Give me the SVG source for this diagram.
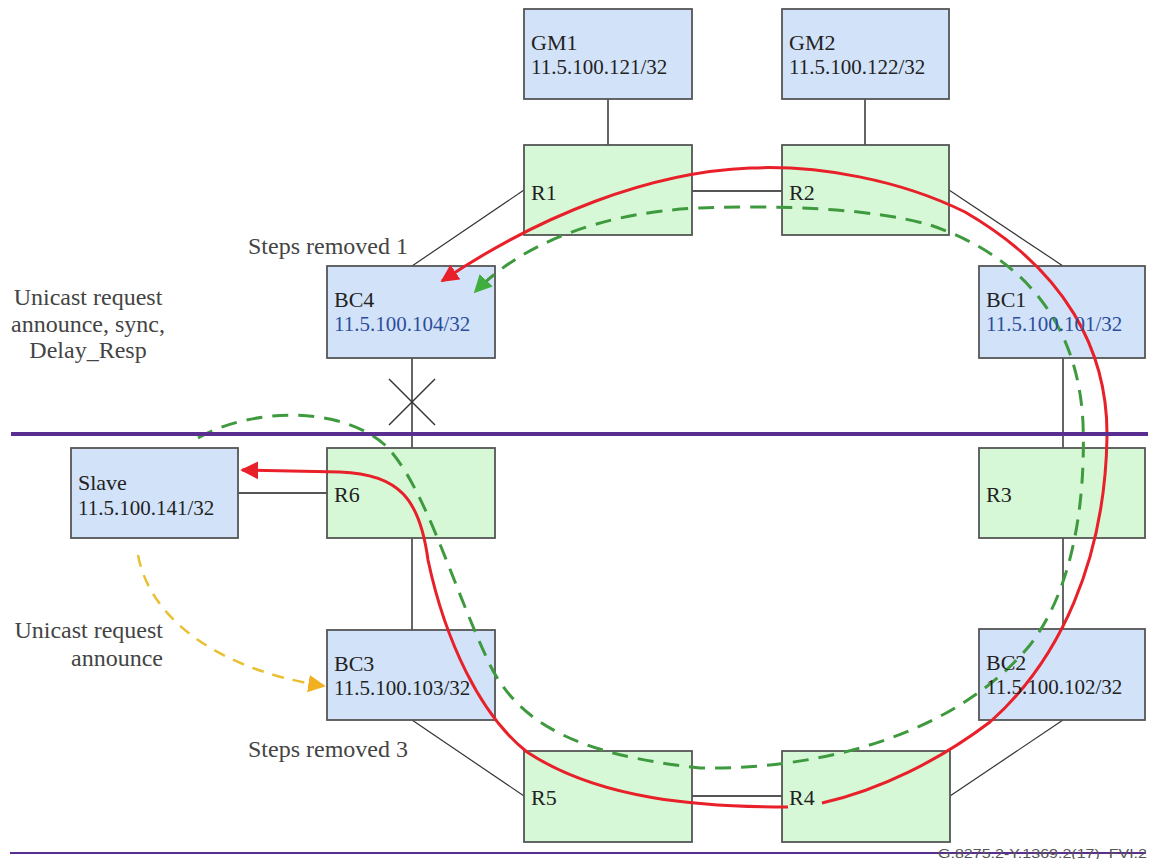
<svg xmlns="http://www.w3.org/2000/svg" width="1151" height="859" viewBox="0 0 1151 859">
<defs>
<style>
.blue{fill:#d2e3f9;stroke:#555;stroke-width:1.8}
.green{fill:#d6f8d6;stroke:#555;stroke-width:1.8}
.link{stroke:#555;stroke-width:1.8;fill:none}
.diag{stroke:#333;stroke-width:1.2;fill:none}
.t{font-family:"Liberation Serif","Times New Roman",serif;font-size:22px;fill:#222}
.ip{font-family:"Liberation Serif","Times New Roman",serif;font-size:21px;fill:#222}
.ipb{font-family:"Liberation Serif","Times New Roman",serif;font-size:21px;fill:#2d4d9c}
.lbl{font-family:"Liberation Serif","Times New Roman",serif;font-size:24px;fill:#444}
.red{stroke:#e8202a;stroke-width:3;fill:none}
.gd{stroke:#3f9a3f;stroke-width:3;fill:none;stroke-dasharray:16 10}
.yd{stroke:#e8c030;stroke-width:2.5;fill:none;stroke-dasharray:12 9}
</style>
<marker id="ar" viewBox="0 0 10 10" refX="9" refY="5" markerWidth="6" markerHeight="6" markerUnits="strokeWidth" orient="auto"><path d="M0,0 L10,5 L0,10 z" fill="#e8202a"/></marker>
<marker id="ag" viewBox="0 0 10 10" refX="9" refY="5" markerWidth="6" markerHeight="6" markerUnits="strokeWidth" orient="auto"><path d="M0,0 L10,5 L0,10 z" fill="#3fae3f"/></marker>
<marker id="ay" viewBox="0 0 10 10" refX="9" refY="5" markerWidth="7" markerHeight="7" markerUnits="strokeWidth" orient="auto"><path d="M0,0 L10,5 L0,10 z" fill="#f0b020"/></marker>
</defs>
<rect width="1151" height="859" fill="#fff"/>

<g id="connectors">
<line class="link" x1="608" y1="99" x2="608" y2="145"/>
<line class="link" x1="865" y1="99" x2="865" y2="145"/>
<line class="link" x1="692" y1="191" x2="782" y2="191"/>
<line class="diag" x1="524" y1="190" x2="412" y2="266"/>
<line class="diag" x1="949" y1="190" x2="1063" y2="266"/>
<line class="link" x1="1063" y1="358" x2="1063" y2="448"/>
<line class="link" x1="1063" y1="538" x2="1063" y2="629"/>
<line class="diag" x1="1063" y1="720" x2="950" y2="796"/>
<line class="link" x1="692" y1="796" x2="782" y2="796"/>
<line class="diag" x1="524" y1="796" x2="412" y2="720"/>
<line class="link" x1="412" y1="538" x2="412" y2="630"/>
<line class="link" x1="412" y1="358" x2="412" y2="448"/>
<line class="link" x1="238" y1="493" x2="327" y2="493"/>
<line stroke="#333" stroke-width="1.5" x1="389" y1="379" x2="435" y2="425"/>
<line stroke="#333" stroke-width="1.5" x1="435" y1="379" x2="389" y2="425"/>
</g>

<g id="GM1"><rect class="blue" x="524" y="9" width="168" height="90"/><text class="t" x="531" y="50">GM1</text><text class="ip" x="531" y="74">11.5.100.121/32</text></g>
<g id="GM2"><rect class="blue" x="782" y="9" width="167" height="90"/><text class="t" x="789" y="50">GM2</text><text class="ip" x="789" y="74">11.5.100.122/32</text></g>
<g id="R1"><rect class="green" x="524" y="145" width="168" height="90"/><text class="t" x="531" y="200">R1</text></g>
<g id="R2"><rect class="green" x="782" y="145" width="167" height="90"/><text class="t" x="789" y="200">R2</text></g>
<g id="BC4"><rect class="blue" x="327" y="266" width="168" height="92"/><text class="t" x="334" y="307">BC4</text><text class="ipb" x="334" y="331">11.5.100.104/32</text></g>
<g id="BC1"><rect class="blue" x="979" y="266" width="166" height="92"/></g>
<g id="R3"><rect class="green" x="979" y="448" width="166" height="90"/><text class="t" x="986" y="502">R3</text></g>
<g id="R6"><rect class="green" x="327" y="448" width="168" height="90"/></g>
<g id="Slave"><rect class="blue" x="71" y="448" width="167" height="90"/><text class="t" x="78" y="490">Slave</text><text class="ip" x="78" y="515">11.5.100.141/32</text></g>
<g id="BC3"><rect class="blue" x="327" y="630" width="168" height="90"/></g>
<g id="BC2"><rect class="blue" x="979" y="629" width="166" height="91"/></g>
<g id="R5"><rect class="green" x="524" y="751" width="168" height="91"/><text class="t" x="531" y="805">R5</text></g>
<g id="R4"><rect class="green" x="782" y="751" width="168" height="91"/></g>

<g id="paths">
<path class="red" marker-end="url(#ar)" d="M822,803 C880,790 940,760 990,722 C1060,660 1105,560 1107,437 C1108,350 1065,270 965,212 C900,180 820,165 750,168 C650,172 540,215 442,281"/>
<path class="red" marker-end="url(#ar)" d="M788,807 C700,807 600,800 527,752 C480,715 445,640 428,560 C420,500 400,474 340,472 L242,470"/>
<path class="gd" marker-end="url(#ag)" d="M198,438 C250,408 340,405 385,445 C425,485 450,580 490,665 C520,725 580,755 700,768 C830,770 960,730 1030,645 C1080,580 1085,480 1083,423 C1078,320 1020,255 930,225 C870,208 780,205 700,208 C600,212 520,245 475,292"/>
<path class="yd" marker-end="url(#ay)" d="M138,555 C150,620 220,670 324,686"/>
</g>

<g id="texts">
<text class="t" x="986" y="307">BC1</text><text class="ipb" x="986" y="331">11.5.100.101/32</text>
<text class="t" x="334" y="502">R6</text>
<text class="t" x="334" y="671">BC3</text><text class="ip" x="334" y="695">11.5.100.103/32</text>
<text class="t" x="986" y="670">BC2</text><text class="ip" x="986" y="694">11.5.100.102/32</text>
<text class="t" x="789" y="805">R4</text>
<text class="lbl" x="248" y="254">Steps removed 1</text>
<text class="lbl" x="248" y="757">Steps removed 3</text>
<text class="lbl" text-anchor="middle" x="88" y="305">Unicast request</text>
<text class="lbl" text-anchor="middle" x="88" y="332">announce, sync,</text>
<text class="lbl" text-anchor="middle" x="88" y="358">Delay_Resp</text>
<text class="lbl" text-anchor="end" x="163" y="638">Unicast request</text>
<text class="lbl" text-anchor="end" x="163" y="666">announce</text>
</g>

<line x1="11" y1="434" x2="1148" y2="434" stroke="#5a2d91" stroke-width="4"/>
<line x1="10" y1="853" x2="1146" y2="853" stroke="#5a2d91" stroke-width="2"/>
<text x="938" y="858" font-family="Liberation Sans, Arial, sans-serif" font-size="13" fill="#555" textLength="209" lengthAdjust="spacingAndGlyphs">G.8275.2-Y.1369.2(17)_FVI.2</text>
</svg>
